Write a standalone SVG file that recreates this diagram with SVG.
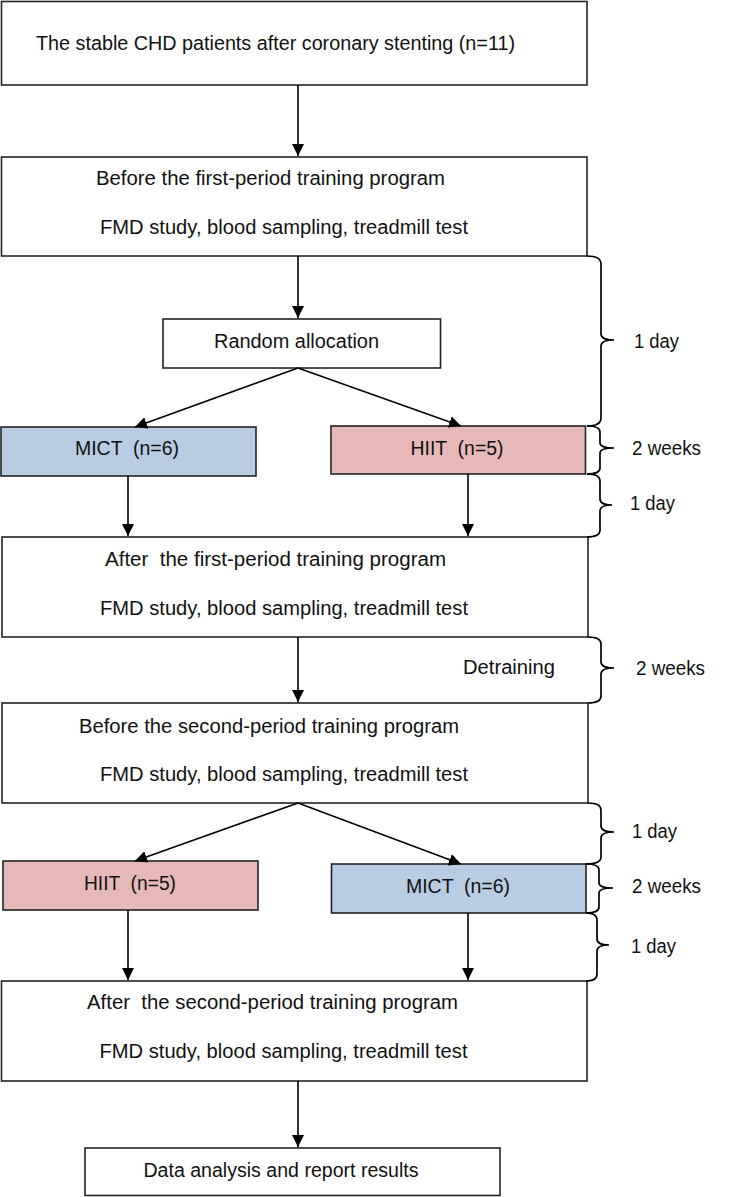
<svg xmlns="http://www.w3.org/2000/svg" width="750" height="1197" viewBox="0 0 750 1197">
<style>
  text { font-family: "Liberation Sans", Arial, sans-serif; font-size: 19.5px; fill: #111; white-space: pre; }
  .box { fill: #fff; stroke: #222; stroke-width: 1.6; }
  .blue { fill: #b8cce4; stroke: #222; stroke-width: 1.6; }
  .pink { fill: #e6b8b7; stroke: #222; stroke-width: 1.6; }
  .conn { stroke: #000; stroke-width: 1.6; fill: none; marker-end: url(#arr); }
  .brace { stroke: #000; stroke-width: 1.7; fill: none; }
</style>
<defs>
  <marker id="arr" viewBox="0 0 12 12" refX="12" refY="6" markerWidth="12" markerHeight="12" markerUnits="userSpaceOnUse" orient="auto">
    <path d="M0,0 L12,6 L0,12 Z" fill="#000"/>
  </marker>
</defs>
<rect width="750" height="1197" fill="#fff"/>

<g id="n1"><rect class="box" x="1.5" y="1.5" width="585.5" height="83.5"/>
<text x="36" y="50" textLength="479" lengthAdjust="spacingAndGlyphs">The stable CHD patients after coronary stenting (n=11)</text></g>

<g id="n2"><rect class="box" x="1.5" y="157" width="585.5" height="99"/>
<text x="96" y="185" textLength="349" lengthAdjust="spacingAndGlyphs">Before the first-period training program</text>
<text x="100" y="234" textLength="368" lengthAdjust="spacingAndGlyphs">FMD study, blood sampling, treadmill test</text></g>

<g id="n3"><rect class="box" x="163" y="319" width="277.5" height="49"/>
<text x="214" y="348" textLength="165" lengthAdjust="spacingAndGlyphs">Random allocation</text></g>

<g id="n4"><rect class="blue" x="1" y="427" width="255" height="49"/>
<text x="75" y="455" textLength="104" lengthAdjust="spacingAndGlyphs">MICT  (n=6)</text></g>

<g id="n5"><rect class="pink" x="331" y="426" width="254.5" height="48"/>
<text x="410.5" y="455" textLength="93" lengthAdjust="spacingAndGlyphs">HIIT  (n=5)</text></g>

<g id="n6"><rect class="box" x="2" y="537" width="586" height="100"/>
<text x="105" y="566" textLength="341" lengthAdjust="spacingAndGlyphs">After  the first-period training program</text>
<text x="100" y="615" textLength="368" lengthAdjust="spacingAndGlyphs">FMD study, blood sampling, treadmill test</text></g>

<g id="n7"><rect class="box" x="2" y="703" width="586" height="100"/>
<text x="79" y="733" textLength="380" lengthAdjust="spacingAndGlyphs">Before the second-period training program</text>
<text x="100" y="781" textLength="368" lengthAdjust="spacingAndGlyphs">FMD study, blood sampling, treadmill test</text></g>

<g id="n8"><rect class="pink" x="3" y="861" width="255" height="49"/>
<text x="84" y="890" textLength="92" lengthAdjust="spacingAndGlyphs">HIIT  (n=5)</text></g>

<g id="n9"><rect class="blue" x="331.5" y="864" width="254.5" height="49"/>
<text x="406" y="893" textLength="104" lengthAdjust="spacingAndGlyphs">MICT  (n=6)</text></g>

<g id="n10"><rect class="box" x="1.5" y="981" width="585.5" height="100"/>
<text x="87" y="1009" textLength="371" lengthAdjust="spacingAndGlyphs">After  the second-period training program</text>
<text x="99.5" y="1058" textLength="368" lengthAdjust="spacingAndGlyphs">FMD study, blood sampling, treadmill test</text></g>

<g id="n11"><rect class="box" x="85" y="1148" width="415" height="47.5"/>
<text x="143.5" y="1177" textLength="275" lengthAdjust="spacingAndGlyphs">Data analysis and report results</text></g>

<g id="connectors">
  <line class="conn" x1="298" y1="85" x2="298" y2="156"/>
  <line class="conn" x1="298" y1="256" x2="298" y2="318"/>
  <line class="conn" x1="298" y1="368" x2="135" y2="427"/>
  <line class="conn" x1="298" y1="368" x2="461" y2="426"/>
  <line class="conn" x1="128" y1="476" x2="128" y2="536"/>
  <line class="conn" x1="468" y1="474" x2="468" y2="536"/>
  <line class="conn" x1="298" y1="637" x2="298" y2="702"/>
  <line class="conn" x1="298" y1="803" x2="135" y2="861"/>
  <line class="conn" x1="298" y1="803" x2="461" y2="864"/>
  <line class="conn" x1="128" y1="910" x2="128" y2="980"/>
  <line class="conn" x1="468" y1="913" x2="468" y2="980"/>
  <line class="conn" x1="298" y1="1081" x2="298" y2="1147"/>
</g>

<g id="braces">
  <path class="brace" d="M587,256 Q601,256 601,264 L601,334 Q601,340 614,340 Q601,340 601,346 L601,418 Q601,426 587,426"/>
  <path class="brace" d="M587,426 Q600,426 600,432 L600,443 Q600,448 614,448 Q600,448 600,453 L600,468 Q600,474 587,474"/>
  <path class="brace" d="M587,474 Q600,474 600,481 L600,499 Q600,505 612,505 Q600,505 600,511 L600,530 Q600,537 587,537"/>
  <path class="brace" d="M588,637 Q601,637 601,644 L601,662 Q601,668 614,668 Q601,668 601,674 L601,696 Q601,703 588,703"/>
  <path class="brace" d="M588,803 Q601,803 601,810 L601,826 Q601,832 614,832 Q601,832 601,838 L601,857 Q601,864 586,864"/>
  <path class="brace" d="M586,864 Q599,864 599,870 L599,883 Q599,888 613,888 Q599,888 599,893 L599,907 Q599,913 586,913"/>
  <path class="brace" d="M586,913 Q597,913 597,920 L597,939 Q597,945 609,945 Q597,945 597,951 L597,974 Q597,981 586,981"/>
  <text x="634" y="348" textLength="45" lengthAdjust="spacingAndGlyphs">1 day</text>
  <text x="632" y="455" textLength="69" lengthAdjust="spacingAndGlyphs">2 weeks</text>
  <text x="630" y="510" textLength="45" lengthAdjust="spacingAndGlyphs">1 day</text>
  <text x="463" y="674" textLength="92" lengthAdjust="spacingAndGlyphs">Detraining</text>
  <text x="636" y="675" textLength="69" lengthAdjust="spacingAndGlyphs">2 weeks</text>
  <text x="632" y="838" textLength="45" lengthAdjust="spacingAndGlyphs">1 day</text>
  <text x="632" y="893" textLength="69" lengthAdjust="spacingAndGlyphs">2 weeks</text>
  <text x="631" y="953" textLength="45" lengthAdjust="spacingAndGlyphs">1 day</text>
</g>
</svg>
